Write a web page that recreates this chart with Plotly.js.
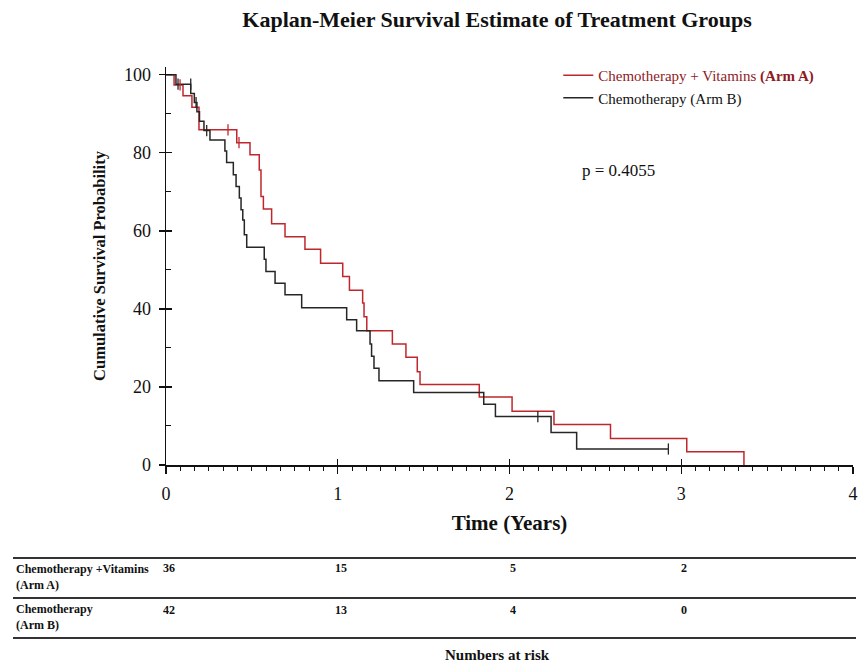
<!DOCTYPE html>
<html>
<head>
<meta charset="utf-8">
<script src="https://cdn.plot.ly/plotly-3.0.1.min.js"></script>
<style>html,body{margin:0;padding:0;background:#fff;}#chart{width:864px;height:663px;}</style>
</head>
<body>
<div id="chart"></div>
<script>
// Arm A: Chemotherapy + Vitamins (time in years, survival %)
const timeA = [0, 0.047, 0.099, 0.151, 0.192, 0.412, 0.489, 0.543, 0.553, 0.567, 0.615, 0.693, 0.809, 0.900, 1.029, 1.068, 1.145, 1.153, 1.169, 1.318, 1.397, 1.463, 1.479, 1.824, 2.015, 2.259, 2.588, 3.032, 3.365];
const survA = [100, 97.4, 94.6, 91.7, 85.9, 82.6, 79.5, 75.6, 68.8, 65.6, 61.8, 58.5, 55.3, 51.7, 48.3, 44.8, 41.5, 38.0, 34.4, 31.0, 27.6, 23.9, 20.6, 17.4, 13.8, 10.4, 6.8, 3.4, 0];
const censorTimeA = [0.082, 0.361, 0.425];
const censorSurvA = [97.4, 85.9, 82.6];

// Arm B: Chemotherapy
const timeB = [0, 0.058, 0.144, 0.165, 0.180, 0.195, 0.221, 0.256, 0.343, 0.353, 0.392, 0.408, 0.427, 0.437, 0.447, 0.456, 0.470, 0.572, 0.582, 0.635, 0.693, 0.790, 1.052, 1.110, 1.188, 1.197, 1.211, 1.240, 1.442, 1.850, 1.918, 2.242, 2.391, 2.925];
const survB = [100, 97.6, 95.2, 92.9, 90.5, 88.1, 85.7, 83.3, 80.5, 77.5, 74.4, 71.4, 68.4, 65.4, 62.8, 59.0, 55.8, 52.7, 49.6, 46.6, 43.6, 40.3, 37.2, 34.4, 31.0, 27.9, 24.8, 21.6, 18.6, 15.6, 12.4, 8.3, 4.1, 4.1];
const censorTimeB = [0.070, 0.144, 0.175, 0.237, 2.165, 2.925];
const censorSurvB = [97.6, 97.6, 92.9, 85.7, 12.4, 4.1];

// Numbers at risk
const riskTimes = [0, 1, 2, 3];
const riskA = [36, 15, 5, 2];
const riskB = [42, 13, 4, 0];
const rowLabelA = "Chemotherapy +Vitamins<br>(Arm A)";
const rowLabelB = "Chemotherapy<br>(Arm B)";
const pText = "p = 0.4055";

const RED = "#c0272d";
const DARKRED = "#8e1b1f";
const BLK = "#262626";
const SERIF = "Liberation Serif, Times New Roman, serif";

const traces = [
  {x: timeA, y: survA, type: "scatter", mode: "lines", line: {shape: "hv", color: RED, width: 1.5},
   name: '<span style="color:' + DARKRED + '">Chemotherapy + Vitamins <b>(Arm A)</b></span>'},
  {x: timeB, y: survB, type: "scatter", mode: "lines", line: {shape: "hv", color: BLK, width: 1.5},
   name: "Chemotherapy (Arm B)"},
  {x: censorTimeA, y: censorSurvA, xaxis: "x2", yaxis: "y2", type: "scatter", mode: "markers", showlegend: false,
   marker: {symbol: "line-ns-open", size: 8, color: RED, line: {color: RED, width: 1.3}}},
  {x: censorTimeB, y: censorSurvB, xaxis: "x2", yaxis: "y2", type: "scatter", mode: "markers", showlegend: false,
   marker: {symbol: "line-ns-open", size: 8, color: BLK, line: {color: BLK, width: 1.3}}}
];

// plot area in pixels: left 166, right 853, top 67, bottom 465
const plotTop = 67, plotBottom = 465, plotLeft = 166, plotRight = 853;
const py = p => (plotBottom - p) / (plotBottom - plotTop);
const px = p => (p - plotLeft) / (plotRight - plotLeft);

const annotations = [
  {xref: "x", yref: "y", x: 2.41, y: 75.6, xanchor: "left", yanchor: "middle", showarrow: false,
   text: pText, font: {family: SERIF, size: 17, color: "#111"}},
  {xref: "paper", yref: "paper", x: px(14), y: py(560), xanchor: "left", yanchor: "top", showarrow: false, align: "left",
   text: "<b>" + rowLabelA + "</b>", font: {family: SERIF, size: 12, color: "#111"}},
  {xref: "paper", yref: "paper", x: px(14), y: py(600), xanchor: "left", yanchor: "top", showarrow: false, align: "left",
   text: "<b>" + rowLabelB + "</b>", font: {family: SERIF, size: 12, color: "#111"}},
  {xref: "paper", yref: "paper", x: px(497), y: py(655), xanchor: "center", yanchor: "middle", showarrow: false,
   text: "<b>Numbers at risk</b>", font: {family: SERIF, size: 15, color: "#111"}}
];
riskTimes.forEach((t, i) => {
  annotations.push({xref: "x", yref: "paper", x: t, y: py(568), xanchor: "center", yanchor: "middle", xshift: 3, showarrow: false,
    text: "<b>" + riskA[i] + "</b>", font: {family: SERIF, size: 12, color: "#111"}});
  annotations.push({xref: "x", yref: "paper", x: t, y: py(610), xanchor: "center", yanchor: "middle", xshift: 3, showarrow: false,
    text: "<b>" + riskB[i] + "</b>", font: {family: SERIF, size: 12, color: "#111"}});
});

const shapes = [558, 598, 638].map(p => ({
  type: "line", xref: "paper", yref: "paper", x0: px(13), x1: px(856), y0: py(p), y1: py(p),
  line: {color: "#333", width: 2}
}));

const layout = {
  width: 864, height: 663,
  margin: {l: plotLeft, r: 864 - plotRight, t: plotTop, b: 663 - plotBottom},
  paper_bgcolor: "#fff", plot_bgcolor: "#fff",
  font: {family: SERIF, color: "#111"},
  title: {text: "<b>Kaplan-Meier Survival Estimate of Treatment Groups</b>", xref: "container", x: 497 / 864, xanchor: "center",
          yref: "container", y: 1 - 19 / 663, yanchor: "middle", font: {family: SERIF, size: 22, color: "#111"}},
  xaxis: {range: [0, 4], dtick: 1, tick0: 0, showgrid: false, zeroline: false, showline: true, linecolor: "#111", linewidth: 1.5,
          ticks: "outside", ticklen: 7, tickwidth: 1.3, tickcolor: "#111", ticklabelstandoff: 5,
          minor: {dtick: 1 / 12, tick0: 0, ticks: "outside", ticklen: 4, tickwidth: 1, tickcolor: "#111", showgrid: false},
          tickfont: {family: SERIF, size: 18, color: "#111"},
          title: {text: "<b>Time (Years)</b>", font: {family: SERIF, size: 21, color: "#111"}, standoff: 12}},
  yaxis: {range: [0, 102], tickvals: [0, 20, 40, 60, 80, 100], showgrid: false, zeroline: false, showline: true, linecolor: "#111", linewidth: 1.5,
          ticks: "outside", ticklen: 6, tickwidth: 1.3, tickcolor: "#111", ticklabelstandoff: 4,
          minor: {tickvals: [10, 30, 50, 70, 90], ticks: "inside", ticklen: 5, tickwidth: 1, tickcolor: "#111", showgrid: false},
          tickfont: {family: SERIF, size: 18, color: "#111"},
          title: {text: "<b>Cumulative Survival Probability</b>", font: {family: SERIF, size: 16.5, color: "#111"}, standoff: 14}},
  xaxis2: {overlaying: "x", range: [0, 4], anchor: "y", side: "bottom", showgrid: false, zeroline: false, showline: false,
           ticks: "inside", ticklen: 6, tickwidth: 1.3, tickcolor: "#111", showticklabels: false, dtick: 1, tick0: 0},
  yaxis2: {overlaying: "y", range: [0, 102], anchor: "x", side: "left", showgrid: false, zeroline: false, showline: false,
           ticks: "inside", ticklen: 6, tickwidth: 1.3, tickcolor: "#111", showticklabels: false, tickvals: [0, 20, 40, 60, 80, 100]},
  legend: {x: 0.571, y: 1.02, xanchor: "left", yanchor: "top", bgcolor: "rgba(0,0,0,0)", borderwidth: 0,
           font: {family: SERIF, size: 15, color: "#111"}, tracegroupgap: 0, itemwidth: 30},
  annotations: annotations,
  shapes: shapes,
  showlegend: true
};

Plotly.newPlot("chart", traces, layout, {displayModeBar: false, staticPlot: true});
</script>
</body>
</html>
